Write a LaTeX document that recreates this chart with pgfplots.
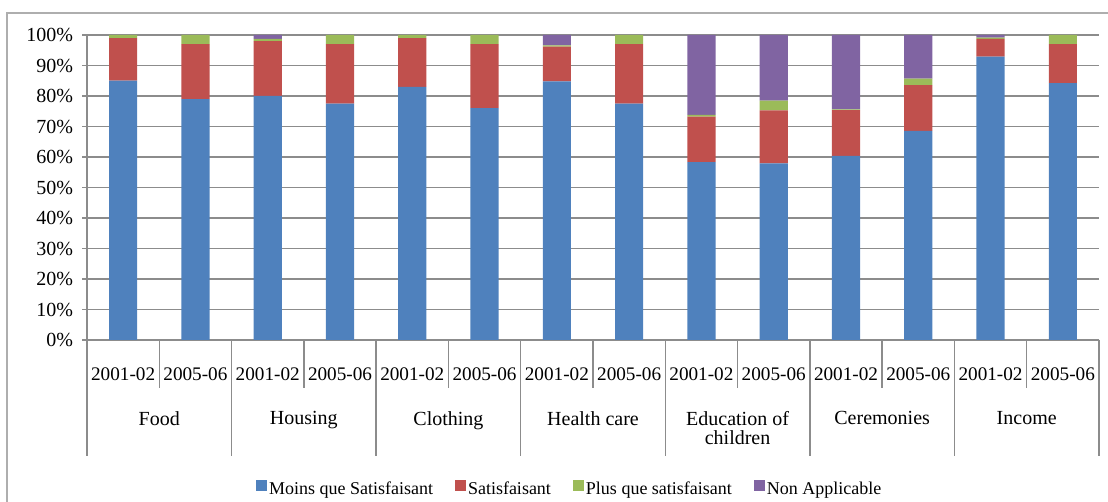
\documentclass[border=0pt]{standalone}
\usepackage{fontspec}
\setmainfont{Liberation Serif}
\usepackage{pgfplots}
\pgfplotsset{compat=1.18}
\usepackage{pgfplotstable}

\definecolor{cblue}{HTML}{4F81BD}
\definecolor{cred}{HTML}{C0504D}
\definecolor{cgreen}{HTML}{9BBB59}
\definecolor{cpurple}{HTML}{8064A2}
\definecolor{gridgray}{HTML}{8C8C8C}

% columns: bar position, moins, satisfaisant, plus, non applicable
\pgfplotstableread{
x  moins  sat   plus  na
0  85.0   14.0  1.0   0.0
1  79.0   18.0  3.0   0.0
2  80.0   18.0  0.7   1.3
3  77.5   19.5  3.0   0.0
4  83.0   16.0  1.0   0.0
5  76.0   21.0  3.0   0.0
6  84.8   11.4  0.4   3.4
7  77.5   19.5  3.0   0.0
8  58.3   14.9  0.6   26.2
9  57.9   17.4  3.2   21.5
10 60.4   15.0  0.2   24.4
11 68.6   15.0  2.1   14.3
12 92.9   5.8   0.4   0.9
13 84.2   12.8  3.0   0.0
}\datatable

\begin{document}
\begin{tikzpicture}[font=\fontsize{10}{12}\selectfont]
\path[use as bounding box] (0,0) rectangle (554pt,251pt);
\draw[gridgray!70, line width=0.6pt] (3.5pt,-5pt) rectangle (560pt,244.5pt);
\begin{axis}[
  at={(43.5pt,81pt)}, anchor=south west,
  width=506pt, height=152.5pt, scale only axis,
  ybar stacked, bar width=0.39,
  xmin=-0.5, xmax=13.5, ymin=0, ymax=100,
  ytick={0,10,...,100},
  yticklabel={\pgfmathprintnumber{\tick}\%},
  /pgf/number format/assume math mode=true,
  ymajorgrids, grid style={gridgray, line width=0.7pt},
  axis x line*=bottom, axis y line*=left,
  axis line style={gridgray, line width=0.7pt},
  tick align=outside, major tick length=2.5pt,
  ytick style={gridgray, line width=0.7pt},
  xtick={0,...,13}, xtick style={draw=none},
  xticklabels={2001-02,2005-06,2001-02,2005-06,2001-02,2005-06,2001-02,2005-06,2001-02,2005-06,2001-02,2005-06,2001-02,2005-06},
  xticklabel style={anchor=center, yshift=-14.5pt, font=\fontsize{9.6}{11}\selectfont},
  yticklabel style={xshift=-1pt},
  legend style={at={(0.477,-0.49)}, anchor=center, draw=none, fill=none,
    legend columns=4, /tikz/every even column/.append style={column sep=10pt},
    inner sep=0pt, font=\fontsize{9}{11}\selectfont, nodes={inner sep=1pt}},
  legend image code/.code={\fill[#1] (0pt,-0.5pt) rectangle (5.5pt,5pt);},
  clip=false,
]
\addplot[fill=cblue, draw=none] table[x=x, y=moins] {\datatable};
\addplot[fill=cred, draw=none] table[x=x, y=sat] {\datatable};
\addplot[fill=cgreen, draw=none] table[x=x, y=plus] {\datatable};
\addplot[fill=cpurple, draw=none] table[x=x, y=na] {\datatable};
\legend{Moins que Satisfaisant, Satisfaisant, Plus que satisfaisant, Non Applicable}

\pgfplotsinvokeforeach{0.5,2.5,4.5,6.5,8.5,10.5,12.5}{
  \draw[gridgray, line width=0.7pt] (axis cs:#1,0) -- ++(0pt,-24pt);
}
\pgfplotsinvokeforeach{-0.5,1.5,3.5,5.5,7.5,9.5,11.5,13.5}{
  \draw[gridgray, line width=0.7pt] (axis cs:#1,0) -- ++(0pt,-58pt);
}
\tikzset{cat/.style={anchor=north, inner sep=0pt, align=center, yshift=-35.5pt}}
\node[cat] at (axis cs:0.5,0) {Food};
\node[cat] at (axis cs:2.5,0) {Housing};
\node[cat] at (axis cs:4.5,0) {Clothing};
\node[cat] at (axis cs:6.5,0) {Health care};
\node[cat] at (axis cs:8.5,0) {Education of\\[-2.5pt]children};
\node[cat] at (axis cs:10.5,0) {Ceremonies};
\node[cat] at (axis cs:12.5,0) {Income};
\end{axis}
\end{tikzpicture}
\end{document}
